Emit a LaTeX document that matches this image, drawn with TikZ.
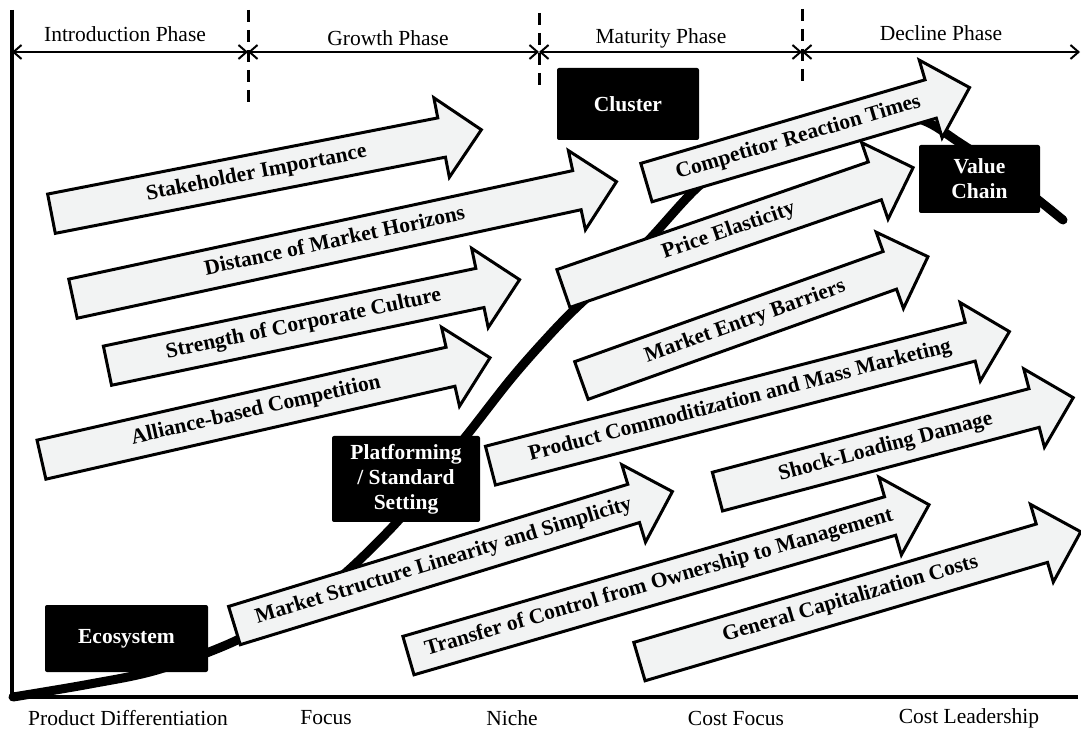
\documentclass[tikz,border=0pt]{standalone}
\usepackage{fontspec}
\setmainfont{Liberation Serif}
\usetikzlibrary{arrows.meta,positioning,shapes.arrows}
\definecolor{trendgray}{RGB}{242,243,243}
\tikzset{
  trend/.style={single arrow, draw=black, line width=1.5pt, fill=trendgray,
    single arrow head extend=10.25pt, single arrow tip angle=90, anchor=tail,
    inner xsep=2pt, inner ysep=4.25pt, text height=7.5pt, text depth=2.5pt,
    font=\fontsize{10.75}{12}\selectfont\bfseries},
  stage/.style={fill=black, rounded corners=1pt, text=white, align=center,
    inner sep=0pt, font=\fontsize{10.75}{12.5}\selectfont\bfseries},
  phase/.style={inner sep=1pt, font=\fontsize{10.75}{12}\selectfont},
  strategy/.style={phase},
  span/.style={{Straight Barb[length=4pt,width=7pt]}-{Straight Barb[length=4pt,width=7pt]}, line width=1pt},
  divider/.style={line width=1.5pt, dash pattern=on 6pt off 4pt},
  axis/.style={line width=1.75pt},
  lifecycle/.style={line width=4.5pt, line cap=round, line join=round}
}
\begin{document}
\begin{tikzpicture}[x=0.5pt, y=-0.5pt]
  \useasboundingbox (0,0) rectangle (1081,731);
  \coordinate (origin) at (12,697);
  \coordinate (ytop) at (12,10);
  \coordinate (xend) at (1078,697);
  \coordinate (p0) at (12,52);
  \coordinate (p1) at (248,52);
  \coordinate (p2) at (539,52);
  \coordinate (p3) at (802,52);
  \coordinate (p4) at (1080,52);
  \coordinate (cut1top) at (248,10);
  \coordinate (cut1bot) at (248,102);
  \coordinate (cut2top) at (539,13);
  \coordinate (cut2bot) at (539,89);
  \coordinate (cut3top) at (802,9);
  \coordinate (cut3bot) at (802,88);

  % life cycle curve, runs behind the arrows and boxes
  \draw[lifecycle] plot[smooth, tension=0.55] coordinates {(13,697) (90,684) (157,670)
    (233,642) (300,605) (343,575) (397,522) (432,478) (467,435) (510,380) (545,340)
    (577,307) (642,247) (700,185) (760,142) (820,118) (868,110) (922,120) (960,143)
    (1000,170) (1042,203) (1063,220)};

  \draw[axis] (ytop) -- (origin) -- (xend);
  \draw[divider] (cut1top) -- (cut1bot);
  \draw[divider] (cut2top) -- (cut2bot);
  \draw[divider] (cut3top) -- (cut3bot);
  \draw[span] (p0) -- (p1);
  \draw[span] (p1) -- (p2);
  \draw[span] (p2) -- (p3);
  \draw[span] (p3) -- (p4);

  \node[phase] (intro) at (125,34) {Introduction Phase};
  \node[phase] (growth) at (388,38) {Growth Phase};
  \node[phase] (maturity) at (661,38) {Maturity Phase};
  \node[phase] (decline) at (941,33) {Decline Phase};

  \node[trend, rotate=11.05, minimum height=219pt] (stake) at (50,214) {Stakeholder Importance};
  \node[trend, rotate=12.15, minimum height=278pt] (horizon) at (71.5,299) {Distance of Market Horizons};
  \node[trend, rotate=11.79, minimum height=210.5pt] (culture) at (106,366) {Strength of Corporate Culture};
  \node[trend, rotate=12.8, minimum height=230pt] (alliance) at (40,460) {Alliance-based Competition};
  \node[trend, rotate=16.39, minimum height=168.4pt] (reaction) at (645,183) {Competitor Reaction Times};
  \node[trend, rotate=19.07, minimum height=185pt] (price) at (562,289) {Price Elasticity};
  \node[trend, rotate=19.66, minimum height=184pt] (entry) at (580,381) {Market Entry Barriers};
  \node[trend, rotate=14.48, minimum height=268pt] (commod) at (489,466) {Product Commoditization and Mass Marketing};
  \node[trend, rotate=14.79, minimum height=184pt] (shock) at (716,492) {Shock-Loading Damage};
  \node[trend, rotate=17.01, minimum height=229pt] (linear) at (233,626) {Market Structure Linearity and Simplicity};
  \node[trend, rotate=16.16, minimum height=271pt] (control) at (407,656) {Transfer of Control from Ownership to Management};
  \node[trend, rotate=16.39, minimum height=230pt] (capital) at (638,662) {General Capitalization Costs};

  \node[stage, minimum width=71pt, minimum height=36pt] (cluster) at (628,104) {Cluster};
  \node[stage, minimum width=60.5pt, minimum height=34pt] (chain) at (979.5,179) {Value\\Chain};
  \node[stage, minimum width=74pt, minimum height=43pt] (platform) at (406,479) {Platforming\\/ Standard\\Setting};
  \node[stage, minimum width=81.5pt, minimum height=33.5pt] (eco) at (126.5,638.5) {Ecosystem};

  \node[strategy] (differ) at (128,718) {Product Differentiation};
  \node[strategy] (focus) at (326,718) {Focus};
  \node[strategy] (niche) at (512,718) {Niche};
  \node[strategy] (costfocus) at (736,718) {Cost Focus};
  \node[strategy] (leader) at (969,718) {Cost Leadership};
\end{tikzpicture}
\end{document}
